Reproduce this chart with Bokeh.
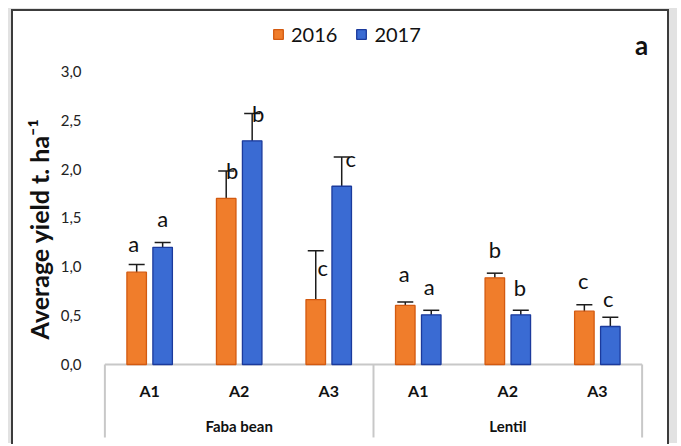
from bokeh.plotting import figure
from bokeh.models import (FactorRange, ColumnDataSource, Whisker, TeeHead,
                          FixedTicker, Label, CustomJSTickFormatter)
from bokeh.transform import dodge
from bokeh.core.properties import value
from bokeh.embed import file_html
from bokeh.resources import INLINE

# ---------------- data ----------------
crops = ["Faba bean", "Lentil"]
treatments = ["A1", "A2", "A3"]
years = ["2016", "2017"]

yield_2016 = [0.945, 1.70, 0.665, 0.605, 0.887, 0.546]
err_2016 = [0.078, 0.28, 0.50, 0.035, 0.048, 0.067]
yield_2017 = [1.20, 2.29, 1.825, 0.509, 0.509, 0.389]
err_2017 = [0.048, 0.28, 0.30, 0.046, 0.046, 0.095]

letters_2016 = ["a", "b", "c", "a", "b", "c"]
letters_2017 = ["a", "b", "c", "a", "b", "c"]
# baseline height of each significance letter (as placed in the original)
letter_y_2016 = [1.133, 1.884, 0.888, 0.826, 1.072, 0.758]
letter_y_2017 = [1.389, 2.471, 2.010, 0.696, 0.689, 0.570]

y_ticks = [0.0, 0.5, 1.0, 1.5, 2.0, 2.5, 3.0]
panel_tag = "a"
y_title = "Average yield t. ha\u207b\u00b9"

# ---------------- layout / style ----------------
ORANGE = "#F07D2B"
ORANGE_EDGE = "#D35A10"
BLUE = "#3A6BD3"
BLUE_EDGE = "#1B3A9C"
GRID = "#c8c8c8"
INK = "#111111"
FONT = "Lato"
DX = 0.145
BAR_W = 0.218
letter_dx_2016 = [-3, 6, 7, -1, 0, -1]
letter_dx_2017 = [0, 6, 9, -2, -1, -2]
Y_LOW, Y_HIGH = -0.8396, 3.6143       # frame spans the whole canvas
TREAT_LABEL_Y = -0.335                 # baseline of A1/A2/A3 labels
GROUP_LABEL_Y = -0.701                 # baseline of crop labels
DIVIDER_END = -0.747
BASE_SHIFT = -0.45                     # svg baseline correction (in em)

factors = [(c, t) for c in crops for t in treatments]

src = ColumnDataSource(dict(
    x=factors,
    tname=[t for c in crops for t in treatments],
    y16=yield_2016, y17=yield_2017,
    up16=[v + e for v, e in zip(yield_2016, err_2016)],
    lo16=[v - e for v, e in zip(yield_2016, err_2016)],
    up17=[v + e for v, e in zip(yield_2017, err_2017)],
    lo17=[v - e for v, e in zip(yield_2017, err_2017)],
    l16=letters_2016, l17=letters_2017,
    ly16=letter_y_2016, ly17=letter_y_2017,
    dx16=letter_dx_2016, dx17=letter_dx_2017,
))

p = figure(x_range=FactorRange(*factors, range_padding=0.25, range_padding_units="absolute",
                               group_padding=0, factor_padding=0),
           y_range=(Y_LOW, Y_HIGH),
           width=658, height=435,
           min_border_left=69, min_border_right=7, min_border_top=0, min_border_bottom=0,
           x_axis_location=None,
           output_backend="svg", toolbar_location=None,
           background_fill_color="white", border_fill_color="white")
p.outline_line_color = None
p.xgrid.grid_line_color = None
p.ygrid.grid_line_color = None
p.styles = {"margin-left": "11px", "margin-top": "9px",
            "border-top": "2px solid #3c3c3c", "border-left": "2px solid #3c3c3c",
            "border-right": "2px solid #3c3c3c",
            "box-shadow": "-3px -1px 0 0 #e2e2e2, 8px -1px 0 0 #e2e2e2"}

x16 = dodge("x", -DX, range=p.x_range)
x17 = dodge("x", DX, range=p.x_range)

# category table lines
left_edge = (crops[0], treatments[0], -0.5)
right_edge = (crops[-1], treatments[-1], 0.5)
bounds = [left_edge, (crops[1], treatments[0], -0.5), right_edge]
p.segment(x0=[left_edge], x1=[right_edge], y0=[0], y1=[0], line_color=GRID, line_width=2)
p.segment(x0=bounds, x1=bounds, y0=[0] * 3, y1=[DIVIDER_END] * 3,
          line_color=GRID, line_width=2)

p.vbar(x=x16, top="y16", width=BAR_W, source=src, fill_color=ORANGE,
       line_color=ORANGE_EDGE, line_width=1.3, legend_label=years[0])
p.vbar(x=x17, top="y17", width=BAR_W, source=src, fill_color=BLUE,
       line_color=BLUE_EDGE, line_width=1.3, legend_label=years[1])

for base, up, lo in ((x16, "up16", "lo16"), (x17, "up17", "lo17")):
    p.add_layout(Whisker(base=base, upper=up, lower=lo, source=src,
                         line_color="#1c1c1c", line_width=1.5,
                         upper_head=TeeHead(size=16, line_color="#1c1c1c", line_width=1.5),
                         lower_head=TeeHead(size=16, line_color="#1c1c1c", line_width=1.5)))

for xx, lab, ly, dx in ((x16, "l16", "ly16", "dx16"), (x17, "l17", "ly17", "dx17")):
    p.text(x=xx, y=ly, text=lab, x_offset=dx, y_offset=BASE_SHIFT * 22, source=src,
           text_align="center", text_baseline="alphabetic",
           text_font=value(FONT), text_font_size="22px", text_color=INK)

# category labels
p.text(x="x", y=TREAT_LABEL_Y, text="tname", source=src, y_offset=BASE_SHIFT * 16,
       text_align="center", text_baseline="alphabetic",
       text_font=value(FONT), text_font_style="bold", text_font_size="16px", text_color=INK)
p.text(x=crops, y=[GROUP_LABEL_Y] * len(crops), text=crops, y_offset=BASE_SHIFT * 15,
       text_align="center", text_baseline="alphabetic",
       text_font=value(FONT), text_font_style="bold", text_font_size="15px", text_color=INK)

# y axis
yax = p.yaxis[0]
yax.ticker = FixedTicker(ticks=y_ticks)
yax.formatter = CustomJSTickFormatter(code="return tick.toFixed(1).replace('.', ',')")
yax.axis_line_color = None
yax.major_tick_line_color = None
yax.minor_tick_line_color = None
yax.major_tick_out = 0
yax.major_tick_in = 0
yax.major_label_standoff = 1
yax.major_label_text_font = FONT
yax.major_label_text_font_size = "15px"
yax.major_label_text_color = "#222222"
yax.axis_label = y_title
yax.axis_label_text_font = FONT
yax.axis_label_text_font_style = "bold"
yax.axis_label_text_font_size = "25px"
yax.axis_label_text_color = INK
yax.axis_label_standoff = 4

# legend (inside the tall frame, above the bars)
lg = p.legend[0]
lg.location = (190, 400)
lg.orientation = "horizontal"
lg.glyph_width = 12
lg.glyph_height = 12
lg.label_standoff = 7
lg.spacing = 18
lg.padding = 0
lg.margin = 0
lg.border_line_color = None
lg.background_fill_alpha = 0
lg.label_text_font = FONT
lg.label_text_font_size = "20px"
lg.label_text_color = INK

p.add_layout(Label(x=559, y=402, x_units="screen", y_units="screen", text=panel_tag,
                   text_align="center", text_baseline="alphabetic",
                   text_font=FONT, text_font_style="bold", text_font_size="26px",
                   text_color=INK))

open("out.html", "w").write(file_html(p, INLINE))
